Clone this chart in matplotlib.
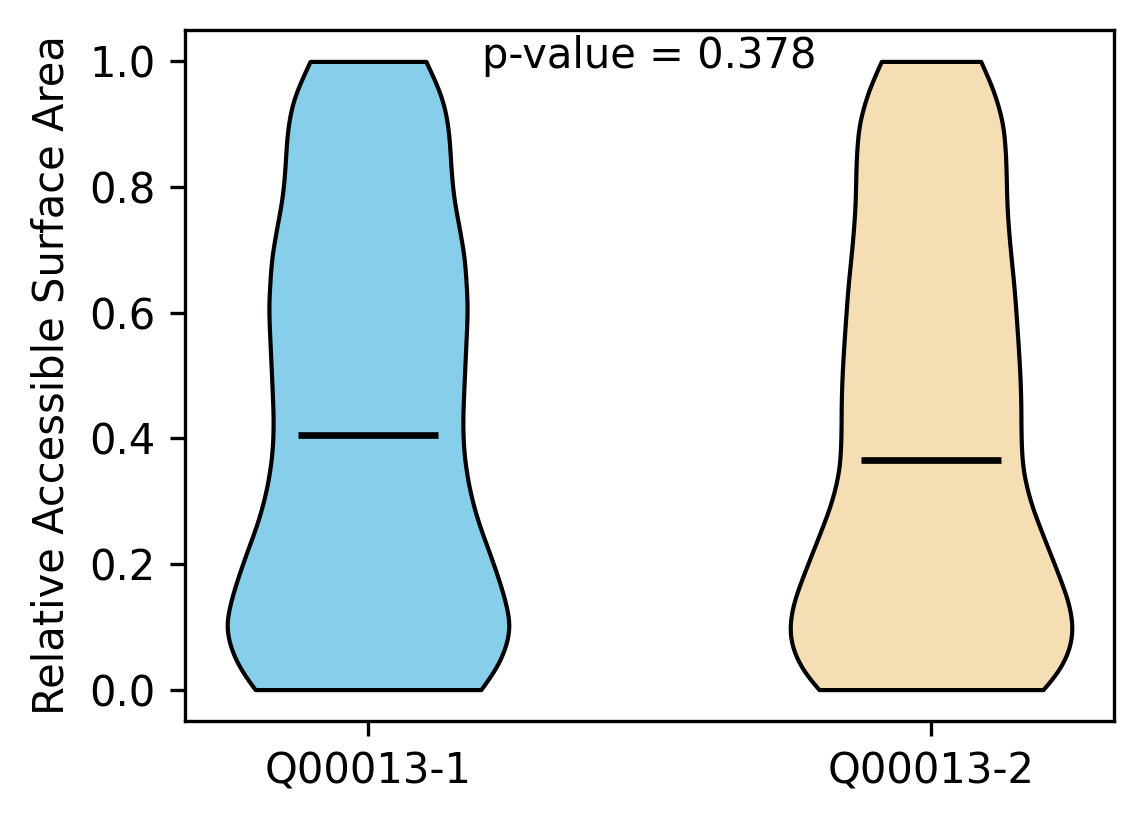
import numpy as np
import matplotlib
matplotlib.use("Agg")
import matplotlib.pyplot as plt

# Groups and their summary values
labels = ["Q00013-1", "Q00013-2"]
means = [0.405, 0.366]
p_value = 0.378

# Density profiles along the RSA axis (relative half-width of each violin)
rsa_1 = [0.0, 0.027, 0.058, 0.101, 0.154, 0.207, 0.270, 0.323, 0.377, 0.429,
         0.504, 0.609, 0.688, 0.742, 0.784, 0.832, 0.880, 0.911, 0.938, 0.964, 1.0]
dens_1 = [111, 124, 134, 141, 133, 122, 107.5, 99, 94, 93,
          95, 98, 95, 89, 84, 81.5, 80, 77.5, 74, 67.5, 57]

rsa_2 = [0.0, 0.021, 0.059, 0.095, 0.138, 0.191, 0.243, 0.297, 0.350, 0.402,
         0.456, 0.504, 0.556, 0.636, 0.715, 0.768, 0.847, 0.901, 0.954, 1.0]
dens_2 = [111.5, 124.5, 137.5, 142, 137.5, 125, 112, 99, 91, 89.5,
          89.5, 88.5, 86.5, 83, 78, 75.5, 74.5, 72, 62.5, 49.5]

colors = ["skyblue", "wheat"]


def make_stats(rsa, dens, mean, n=400, sigma=0.02):
    rsa = np.asarray(rsa)
    grid = np.linspace(rsa.min(), rsa.max(), n)
    vals = np.interp(grid, rsa, dens)
    # gaussian smoothing of the readings, slope kept at the ends
    step = grid[1] - grid[0]
    half = int(4 * sigma / step)
    x = np.arange(-half, half + 1) * step
    k = np.exp(-0.5 * (x / sigma) ** 2)
    k /= k.sum()
    padded = np.pad(vals, half, mode="reflect", reflect_type="odd")
    vals = np.convolve(padded, k, mode="valid")
    return dict(coords=grid, vals=vals, mean=mean, median=np.nan,
                min=rsa.min(), max=rsa.max())


stats = [make_stats(rsa_1, dens_1, means[0]),
         make_stats(rsa_2, dens_2, means[1])]

fig = plt.figure(figsize=(1144 / 300, 824 / 300), dpi=300)
ax = fig.add_axes([185 / 1144, 1 - 721 / 824, (1114 - 185) / 1144, (721 - 30) / 824])

parts = ax.violin(stats, positions=[1, 2], widths=0.5,
                  showmeans=True, showextrema=False, showmedians=False)

for body, c in zip(parts["bodies"], colors):
    body.set_facecolor(c)
    body.set_edgecolor("black")
    body.set_linewidth(1.0)
    body.set_alpha(1)

parts["cmeans"].set_color("black")
parts["cmeans"].set_linewidth(1.6)

ax.set_xticks([1, 2])
ax.set_xticklabels(labels)
ax.set_xlim(0.675, 2.325)
ax.set_ylim(-0.05, 1.05)
ax.set_ylabel("Relative Accessible Surface Area")

ax.text(1.5, 0.99, "p-value = %.3f" % p_value, ha="center", va="baseline")

fig.savefig("out.png", dpi=300)
